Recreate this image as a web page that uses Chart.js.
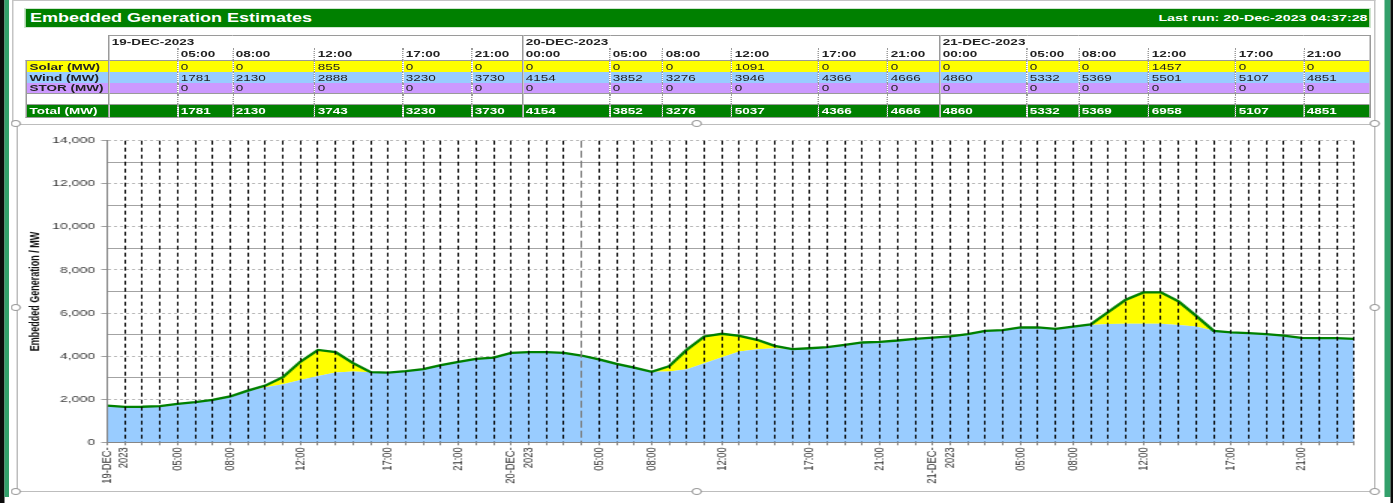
<!DOCTYPE html>
<html>
<head>
<meta charset="utf-8">
<title>Embedded Generation Estimates</title>
<script src="https://cdn.jsdelivr.net/npm/chart.js@4"></script>
<style>
    html, body { margin: 0; padding: 0; background: #fff; overflow: hidden; }
    body { width: 1393px; height: 503px; position: relative; font-family: "Liberation Sans", Arial, sans-serif; }

    /* the source screenshot is stretched sideways, so the page is laid out narrow and scaled */
    #page { position: absolute; left: 0; top: 0; width: 928.67px; height: 503px; transform: scaleX(1.5); transform-origin: 0 0; }

    .edge-dark  { position: absolute; top: 0; height: 503px; background: #0b0b0b; }
    .edge-green { position: absolute; top: 0; height: 497px; background: #33a06b; }

    #sheetBox { position: absolute; left: 8px; top: 0; width: 909px; height: 124px; box-sizing: border-box;
                border: 1px solid #c4c4c4; border-bottom: none; }

    #titleBar { position: absolute; left: 16.67px; top: 9px; width: 896px; height: 18px; background: #008000;
                color: #fff; font-weight: bold; outline: 1px solid #cfe5cf; }
    #titleBar .t1 { position: absolute; left: 3.3px; top: 0; font-size: 12px; line-height: 18px; }
    #titleBar .t2 { position: absolute; right: 1px; top: 0; font-size: 9.5px; line-height: 18px; }

    #grid { position: absolute; left: 16.67px; top: 35px; width: 896px; border-collapse: collapse;
            table-layout: fixed; font-size: 9px; color: #222; }
    #grid td { padding: 0 0 0 1.5px; white-space: nowrap; overflow: hidden; line-height: 10px;
               border-left: 1px dotted #9a9a9a; }
    #grid td.day { border-left: 1px solid #9a9a9a; }
    #grid td.lab { font-weight: bold; padding-left: 2px; border-left: 1px solid #9a9a9a; }
    #grid td:last-child { border-right: 1px solid #9a9a9a; }
    #grid tr.r-date td { height: 12px; font-weight: bold; border-top: 1px solid #9a9a9a; }
    #grid tr.r-time td { height: 12px; font-weight: bold; }
    #grid tr.r-date td.lab, #grid tr.r-time td.lab { border: none; background: #fff; }
    #grid tr.r-solar td { height: 11px; background: #ffff00; border-top: 1px solid #9a9a9a; }
    #grid tr.r-wind td  { height: 11px; background: #99ccff; }
    #grid tr.r-stor td  { height: 10px; background: #cc99ff; }
    #grid tr.r-blank td { height: 10px; border-top: 1px solid #9a9a9a; }
    #grid tr.r-total td { height: 12px; background: #008000; color: #fff; font-weight: bold;
                          border-top: 1px solid #9a9a9a; border-bottom: 1px solid #9a9a9a; }

    #chartBox  { position: absolute; left: 10.67px; top: 124px; width: 906.33px; height: 368px;
                 box-sizing: border-box; border: 1px solid #bdbdbd; }
    #chartWrap { position: absolute; left: 11px; top: 125px; width: 905px; height: 366px; }

    .handle { position: absolute; width: 7px; height: 7px; margin: -4px 0 0 -3.5px; box-sizing: border-box;
              border: 1px solid #9a9a9a; border-radius: 50%; background: #fff; }
</style>
</head>
<body>
<div id="page">
    <div class="edge-dark"  style="left:0; width:3px;"></div>
    <div class="edge-green" style="left:3px; width:3.3px;"></div>
    <div class="edge-green" style="left:922.7px; width:4px;"></div>
    <div class="edge-dark"  style="left:926.7px; width:2px;"></div>

    <div id="sheetBox"></div>
    <div id="titleBar">
        <span class="t1">Embedded Generation Estimates</span>
        <span class="t2">Last run: 20-Dec-2023 04:37:28</span>
    </div>
    <table id="grid"></table>

    <div id="chartBox"></div>
    <div id="chartWrap"><canvas id="genChart"></canvas></div>

    <div class="handle" style="left:10.67px; top:124px;"></div>
    <div class="handle" style="left:464px;   top:124px;"></div>
    <div class="handle" style="left:916.7px; top:124px;"></div>
    <div class="handle" style="left:10.67px; top:308px;"></div>
    <div class="handle" style="left:916.7px; top:308px;"></div>
    <div class="handle" style="left:10.67px; top:492px;"></div>
    <div class="handle" style="left:464px;   top:492px;"></div>
    <div class="handle" style="left:916.7px; top:492px;"></div>
</div>

<script>
// ═══ 데이터 (시간별, 19-DEC 01:00 ~ 22-DEC 00:00) ═══
const dates     = ['19-DEC-2023', '20-DEC-2023', '21-DEC-2023'];
const tickPos   = [0, 4, 7, 11, 16, 20, 23, 28, 31, 35, 40, 44, 47, 52, 55, 59, 64, 68];
const tickTimes = ['', '05:00', '08:00', '12:00', '17:00', '21:00',
                   '00:00', '05:00', '08:00', '12:00', '17:00', '21:00',
                   '00:00', '05:00', '08:00', '12:00', '17:00', '21:00'];
const nowIndex  = 27;   // last run 20-Dec 04:37

const windMW = [
    1702, 1645, 1650, 1680, 1781, 1860, 1967, 2130, 2370, 2557, 2697, 2888,
    3083, 3237, 3283, 3255, 3230, 3300, 3395, 3580, 3730, 3873, 3935, 4154,
    4185, 4185, 4152, 4028, 3852, 3641, 3470, 3276, 3290, 3395, 3673, 3946,
    4213, 4324, 4371, 4324, 4366, 4417, 4525, 4633, 4666, 4725, 4803, 4860,
    4912, 5022, 5175, 5208, 5332, 5330, 5268, 5369, 5440, 5487, 5500, 5501,
    5500, 5440, 5375, 5175, 5107, 5068, 5022, 4957, 4851, 4836, 4836, 4803
];
const solarMW = [
    0, 0, 0, 0, 0, 0, 0, 0, 30, 75, 323, 855,
    1207, 946, 390, 0, 0, 0, 0, 0, 0, 0, 0, 0,
    0, 0, 0, 0, 0, 0, 0, 0, 244, 897, 1239, 1091,
    730, 433, 107, 0, 0, 0, 0, 0, 0, 0, 0, 0,
    0, 0, 0, 0, 0, 0, 0, 0, 29, 563, 1117, 1457,
    1457, 1098, 498, 0, 0, 0, 0, 0, 0, 0, 0, 0
];
const storMW = [
    0, 0, 0, 0, 0, 0, 0, 0, 0, 0, 0, 0,
    0, 0, 0, 0, 0, 0, 0, 0, 0, 0, 0, 0,
    0, 0, 0, 0, 0, 0, 0, 0, 0, 0, 0, 0,
    0, 0, 0, 0, 0, 0, 0, 0, 0, 0, 0, 0,
    0, 0, 0, 0, 0, 0, 0, 0, 0, 0, 0, 0,
    0, 0, 0, 0, 0, 0, 0, 0, 0, 0, 0, 0
];
const totalMW = [
    1702, 1645, 1650, 1680, 1781, 1860, 1967, 2130, 2400, 2632, 3020, 3743,
    4290, 4183, 3673, 3255, 3230, 3300, 3395, 3580, 3730, 3873, 3935, 4154,
    4185, 4185, 4152, 4028, 3852, 3641, 3470, 3276, 3534, 4292, 4912, 5037,
    4943, 4757, 4478, 4324, 4366, 4417, 4525, 4633, 4666, 4725, 4803, 4860,
    4912, 5022, 5175, 5208, 5332, 5330, 5268, 5369, 5469, 6050, 6617, 6958,
    6957, 6538, 5873, 5175, 5107, 5068, 5022, 4957, 4851, 4836, 4836, 4803
];

// 표 열 너비 (px, 스케일 전)
const labelColWidth = 55.33;
const colWidths = [46, 36.67, 54.67, 58.67, 46, 34, 58, 35.33, 46, 58, 46, 34.67, 58, 34.67, 46.67, 58, 45.33, 44];

const FONT = '"Liberation Sans", Arial, sans-serif';

/**
 * 상단 요약 표 (날짜/시각 + Solar/Wind/STOR/Total)
 */
function buildTable() {
    const cell = (k, text) => `<td${k % 6 === 0 ? ' class="day"' : ''}>${text}</td>`;

    let html = '<colgroup><col style="width:' + labelColWidth + 'px">'
             + colWidths.map(w => `<col style="width:${w}px">`).join('') + '</colgroup>';

    html += '<tr class="r-date"><td class="lab"></td>'
          + dates.map(d => `<td class="day" colspan="6">${d}</td>`).join('') + '</tr>';
    html += '<tr class="r-time"><td class="lab"></td>'
          + tickTimes.map((t, k) => cell(k, t)).join('') + '</tr>';

    const rows = [
        ['r-solar', 'Solar (MW)', solarMW],
        ['r-wind',  'Wind (MW)',  windMW],
        ['r-stor',  'STOR (MW)',  storMW],
        ['r-blank', '',           null],
        ['r-total', 'Total (MW)', totalMW]
    ];
    rows.forEach(([cls, name, series]) => {
        html += `<tr class="${cls}"><td class="lab">${name}</td>`
              + tickPos.map((p, k) => cell(k, series && k > 0 ? series[p] : '')).join('') + '</tr>';
    });

    document.getElementById('grid').innerHTML = html;
}

/**
 * x축 라벨: 날짜 시작은 두 줄, 나머지는 시각
 */
function buildAxisLabels() {
    const labels = windMW.map(() => '');
    tickPos.forEach((p, k) => {
        const t = tickTimes[k];
        if (t === '' || t === '00:00') {
            const d = dates[Math.floor(k / 6)];
            labels[p] = [d.slice(0, 7), d.slice(7)];
        } else {
            labels[p] = t;
        }
    });
    return labels;
}

function renderChart() {
    const ctx = document.getElementById('genChart').getContext('2d');
    const isMajor = c => c.tick && c.tick.value % 2000 === 0;

    new Chart(ctx, {
        type: 'line',
        data: {
            labels: buildAxisLabels(),
            datasets: [
                { label: 'Total (MW)', data: totalMW, borderColor: '#008000', borderWidth: 2.3,
                  fill: false, stack: 'total' },
                { label: 'Wind (MW)', data: windMW, backgroundColor: '#99ccff',
                  borderColor: 'transparent', borderWidth: 0, fill: 'origin', stack: 'gen' },
                { label: 'Solar (MW)', data: solarMW, backgroundColor: '#ffff00',
                  borderColor: 'transparent', borderWidth: 0, fill: '-1', stack: 'gen' },
                { label: 'STOR (MW)', data: storMW, backgroundColor: '#cc99ff',
                  borderColor: 'transparent', borderWidth: 0, fill: '-1', stack: 'gen' }
            ]
        },
        options: {
            responsive: true,
            maintainAspectRatio: false,
            animation: false,
            layout: { padding: { left: 0, right: 12.3, top: 15.7, bottom: 0 } },
            elements: { point: { radius: 0 }, line: { tension: 0 } },
            plugins: { legend: { display: false }, tooltip: { enabled: false } },
            scales: {
                x: {
                    ticks: {
                        autoSkip: false, maxRotation: 90, minRotation: 90, padding: 2,
                        color: '#333', font: { family: FONT, size: 9.4 }
                    },
                    // 세로 점선은 면적 위에 그림
                    grid: {
                        z: 1,
                        color: c => c.index === 0 ? '#868686' : (c.index === nowIndex ? '#7a7a7a' : '#000'),
                        lineWidth: 1, tickLength: 3, tickColor: '#868686', tickBorderDash: []
                    },
                    border: {
                        z: 1,
                        color: '#868686',
                        dash: c => c.index === 0 ? [] : (c.index === nowIndex ? [7, 3] : [4, 3])
                    },
                    afterFit: s => { s.height = 48.7; }
                },
                y: {
                    stacked: true, min: 0, max: 14000,
                    ticks: {
                        stepSize: 1000, padding: 4, color: '#404040', font: { family: FONT, size: 9.4 },
                        callback: v => v % 2000 === 0 ? v.toLocaleString('en-US') : ''
                    },
                    grid: {
                        color: c => isMajor(c) ? '#b8b8b8' : '#a3a3a3',
                        tickLength: 4,
                        tickColor: c => isMajor(c) ? '#a0a0a0' : 'transparent'
                    },
                    border: { z: 1, color: '#868686', dash: c => isMajor(c) ? [2, 2] : [] },
                    title: {
                        display: true, text: 'Embedded Generation / MW', color: '#111',
                        font: { family: FONT, size: 9, weight: 'bold' }, padding: { top: 7.3, bottom: 0 }
                    },
                    afterFit: s => { s.width = 60.5; }
                }
            }
        }
    });
}

buildTable();
renderChart();
</script>
</body>
</html>
